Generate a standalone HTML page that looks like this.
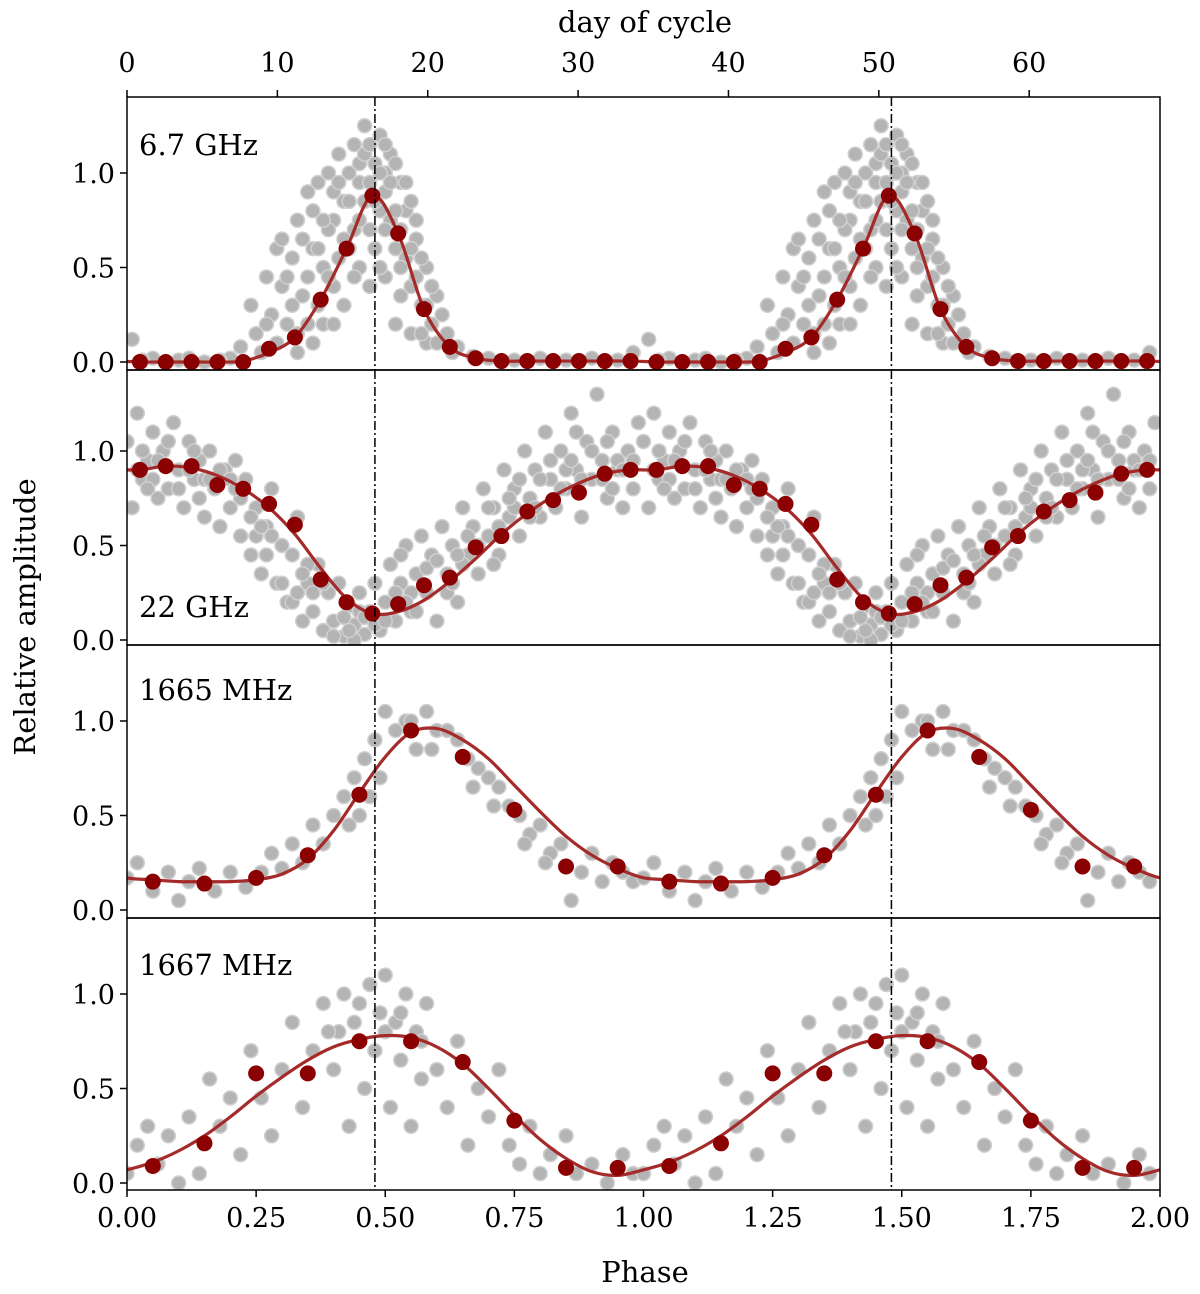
<!DOCTYPE html>
<html><head><meta charset="utf-8"><style>
body{margin:0;background:#fff}
svg text{font-family:"DejaVu Serif","Liberation Serif",serif;fill:#000}
</style></head><body>
<svg id="chart" width="1200" height="1289" xmlns="http://www.w3.org/2000/svg"></svg>
<script>
// ---- data ----
const panelLabels = ["6.7 GHz","22 GHz","1665 MHz","1667 MHz"];
const xTickLabels = ["0.00","0.25","0.50","0.75","1.00","1.25","1.50","1.75","2.00"];
const xTickValues = [0,0.25,0.5,0.75,1,1.25,1.5,1.75,2];
const dayTicks = [0,10,20,30,40,50,60];
const yTicks = [0,0.5,1.0];
const periodDays = 34.35;
const peakPhases = [0.48,1.48];
// red binned points, one cycle
const red67Phase = [0.025,0.075,0.125,0.175,0.225,0.275,0.325,0.375,0.425,0.475,0.525,0.575,0.625,0.675,0.725,0.775,0.825,0.875,0.925,0.975];
const red67 = [0,0,0,0,0,0.07,0.13,0.33,0.6,0.88,0.68,0.28,0.08,0.02,0.005,0.005,0.005,0.005,0.005,0.005];
const red22Phase = red67Phase;
const red22 = [0.9,0.92,0.92,0.82,0.8,0.72,0.61,0.32,0.2,0.14,0.19,0.29,0.33,0.49,0.55,0.68,0.74,0.78,0.88,0.9];
const redOHPhase = [0.05,0.15,0.25,0.35,0.45,0.55,0.65,0.75,0.85,0.95];
const red1665 = [0.15,0.14,0.17,0.29,0.61,0.95,0.81,0.53,0.23,0.23];
const red1667 = [0.09,0.21,0.58,0.58,0.75,0.75,0.64,0.33,0.08,0.08];
// fitted curves
const fitPhase = [0,0.05,0.1,0.15,0.2,0.25,0.3,0.35,0.4,0.45,0.5,0.55,0.6,0.65,0.7,0.75,0.8,0.85,0.9,0.95];
const fitOffPhase = red67Phase;
const fit67 = [0,0,0,0,0.005,0.05,0.13,0.33,0.6,0.88,0.68,0.28,0.08,0.02,0.005,0.005,0.005,0.005,0.005,0.005];
const fit22 = [0.9,0.92,0.91,0.87,0.8,0.7,0.56,0.38,0.22,0.14,0.15,0.21,0.31,0.43,0.56,0.67,0.76,0.83,0.88,0.9];
const fit1665 = [0.17,0.16,0.15,0.15,0.15,0.16,0.19,0.27,0.42,0.62,0.81,0.94,0.96,0.9,0.8,0.66,0.52,0.39,0.29,0.22];
const fit1667 = [0.07,0.11,0.17,0.25,0.35,0.46,0.56,0.65,0.72,0.76,0.78,0.77,0.72,0.63,0.5,0.36,0.23,0.13,0.06,0.04];
// gray individual measurements [phase, value], one cycle
const gray67 = [[0.01,0.12],[0.05,0.02],[0.1,0.01],[0.15,0],[0.2,0.02],[0.22,0.08],[0.24,0.3],[0.25,0.15],[0.27,0.45],[0.28,0.25],[0.29,0.6],[0.3,0.4],[0.31,0.2],[0.32,0.55],[0.33,0.75],[0.34,0.35],[0.35,0.9],[0.36,0.6],[0.37,0.95],[0.38,0.5],[0.39,1.0],[0.4,0.75],[0.41,1.1],[0.42,0.85],[0.43,0.6],[0.44,1.15],[0.45,0.95],[0.46,1.25],[0.47,0.7],[0.48,1.05],[0.49,1.2],[0.5,0.9],[0.51,1.1],[0.52,0.6],[0.53,0.95],[0.54,0.8],[0.55,0.4],[0.56,0.65],[0.57,0.3],[0.58,0.5],[0.59,0.2],[0.6,0.35],[0.62,0.15],[0.64,0.08],[0.67,0.03],[0.7,0.02],[0.75,0.01],[0.8,0.02],[0.85,0.01],[0.9,0.02],[0.95,0.01],[0.98,0.05],[0.4,0.4],[0.42,0.3],[0.45,0.5],[0.5,0.45],[0.53,0.35],[0.44,0.7],[0.47,0.4],[0.38,0.2],[0.48,0.6],[0.55,0.15],[0.52,0.2],[0.36,0.1],[0.33,0.05],[0.58,0.1],[0.46,0.85],[0.5,1.0],[0.43,1.0],[0.41,0.55],[0.49,0.8],[0.51,0.75],[0.39,0.7],
 [0.26,0.05],[0.27,0.2],[0.29,0.1],[0.3,0.65],[0.31,0.45],[0.32,0.3],[0.33,0.15],[0.34,0.65],[0.35,0.45],[0.36,0.8],[0.37,0.3],[0.38,0.75],[0.39,0.45],[0.4,0.9],[0.4,0.2],[0.41,0.95],[0.42,0.65],[0.43,0.85],[0.44,0.45],[0.45,1.05],[0.45,0.75],[0.46,1.1],[0.47,1.15],[0.47,0.95],[0.48,0.85],[0.49,1.0],[0.5,1.15],[0.5,0.7],[0.51,0.95],[0.52,1.05],[0.52,0.8],[0.53,0.7],[0.54,0.95],[0.54,0.55],[0.55,0.85],[0.55,0.6],[0.56,0.45],[0.56,0.75],[0.57,0.55],[0.57,0.15],[0.58,0.3],[0.59,0.4],[0.6,0.1],[0.61,0.25],[0.63,0.05],[0.37,0.6],[0.35,0.2],[0.53,0.5],[0.49,0.5],[0.12,0.02],[0.18,0.01],[0.03,0.01]];
const gray22 = [[0,1.05],[0.01,0.7],[0.02,1.2],[0.03,0.85],[0.04,0.95],[0.05,1.1],[0.06,0.75],[0.07,1.0],[0.08,0.8],[0.09,1.15],[0.1,0.9],[0.11,0.7],[0.12,1.05],[0.13,0.85],[0.14,0.95],[0.15,0.65],[0.16,1.0],[0.17,0.8],[0.18,0.6],[0.19,0.9],[0.2,0.7],[0.21,0.95],[0.22,0.55],[0.23,0.85],[0.24,0.45],[0.25,0.7],[0.26,0.35],[0.27,0.6],[0.28,0.8],[0.29,0.3],[0.3,0.5],[0.31,0.2],[0.32,0.45],[0.33,0.65],[0.34,0.1],[0.35,0.3],[0.36,0.15],[0.37,0.4],[0.38,0.05],[0.39,0.25],[0.4,0.1],[0.41,0.3],[0.42,0.02],[0.43,0.18],[0.44,0.08],[0.45,0.25],[0.46,0.03],[0.47,0.15],[0.48,0.3],[0.49,0.05],[0.5,0.2],[0.51,0.4],[0.52,0.1],[0.53,0.3],[0.54,0.5],[0.55,0.15],[0.56,0.35],[0.57,0.55],[0.58,0.25],[0.59,0.45],[0.6,0.1],[0.61,0.6],[0.62,0.35],[0.63,0.5],[0.64,0.2],[0.65,0.7],[0.66,0.45],[0.67,0.6],[0.68,0.35],[0.69,0.8],[0.7,0.55],[0.71,0.7],[0.72,0.45],[0.73,0.9],[0.74,0.65],[0.75,0.8],[0.76,0.55],[0.77,1.0],[0.78,0.75],[0.79,0.9],[0.8,0.65],[0.81,1.1],[0.82,0.85],[0.83,0.7],[0.84,1.0],[0.85,0.8],[0.86,1.2],[0.87,0.9],[0.88,0.65],[0.89,1.05],[0.9,0.85],[0.91,1.3],[0.92,0.95],[0.93,0.75],[0.94,1.1],[0.95,0.9],[0.96,0.7],[0.97,1.0],[0.98,0.8],[0.99,1.15],[0.05,0.85],[0.15,0.85],[0.25,0.55],[0.35,0.4],[0.45,0.15],[0.55,0.25],[0.65,0.4],[0.75,0.7],[0.85,0.9],[0.95,0.95],
 [0.02,0.9],[0.04,0.8],[0.06,0.95],[0.08,1.05],[0.1,0.8],[0.12,0.9],[0.14,0.75],[0.16,0.85],[0.18,0.9],[0.2,0.85],[0.22,0.75],[0.24,0.65],[0.26,0.6],[0.28,0.55],[0.3,0.3],[0.32,0.2],[0.34,0.35],[0.36,0.25],[0.38,0.3],[0.4,0.02],[0.42,0.12],[0.44,0.0],[0.46,0.12],[0.48,0.08],[0.5,0.1],[0.52,0.25],[0.54,0.2],[0.56,0.15],[0.58,0.38],[0.6,0.42],[0.62,0.25],[0.64,0.45],[0.66,0.55],[0.68,0.5],[0.7,0.7],[0.72,0.6],[0.74,0.75],[0.76,0.85],[0.78,0.65],[0.8,0.85],[0.82,0.95],[0.84,0.8],[0.86,0.95],[0.88,0.85],[0.9,1.0],[0.92,0.85],[0.94,0.8],[0.96,0.9],[0.98,0.95],[0.03,1.0],[0.13,1.0],[0.21,0.8],[0.27,0.45],[0.33,0.25],[0.43,0.05],[0.53,0.45],[0.63,0.3],[0.71,0.4],[0.79,0.7],[0.87,1.1],[0.93,1.05]];
const gray1665 = [[0,0.17],[0.02,0.25],[0.05,0.1],[0.08,0.2],[0.1,0.05],[0.12,0.15],[0.14,0.22],[0.17,0.1],[0.2,0.2],[0.23,0.12],[0.26,0.2],[0.28,0.3],[0.3,0.22],[0.32,0.35],[0.34,0.25],[0.36,0.45],[0.38,0.35],[0.4,0.5],[0.42,0.6],[0.44,0.7],[0.45,0.5],[0.46,0.8],[0.48,0.9],[0.49,0.7],[0.5,1.05],[0.52,0.95],[0.54,1.0],[0.56,0.85],[0.58,1.05],[0.6,0.95],[0.62,0.95],[0.64,0.9],[0.66,0.8],[0.68,0.75],[0.7,0.7],[0.72,0.65],[0.74,0.55],[0.76,0.5],[0.78,0.4],[0.8,0.45],[0.82,0.3],[0.84,0.35],[0.86,0.05],[0.88,0.2],[0.9,0.3],[0.92,0.15],[0.94,0.25],[0.96,0.2],[0.98,0.15],[0.47,0.6],[0.43,0.45],[0.55,1.0],[0.59,0.85],[0.67,0.65],[0.71,0.55],[0.77,0.35],[0.81,0.25]];
const gray1667 = [[0,0.05],[0.02,0.2],[0.04,0.3],[0.06,0.1],[0.08,0.25],[0.1,0],[0.12,0.35],[0.14,0.05],[0.16,0.55],[0.18,0.3],[0.2,0.45],[0.22,0.15],[0.24,0.7],[0.26,0.45],[0.28,0.25],[0.3,0.6],[0.32,0.85],[0.34,0.4],[0.36,0.7],[0.38,0.95],[0.4,0.6],[0.41,0.8],[0.42,1.0],[0.43,0.3],[0.44,0.85],[0.46,0.5],[0.47,1.05],[0.48,0.7],[0.49,0.9],[0.5,1.1],[0.51,0.4],[0.52,0.85],[0.53,0.65],[0.54,1.0],[0.55,0.3],[0.56,0.8],[0.57,0.55],[0.58,0.95],[0.6,0.6],[0.62,0.4],[0.64,0.75],[0.66,0.2],[0.68,0.5],[0.7,0.35],[0.72,0.6],[0.74,0.2],[0.76,0.1],[0.78,0.3],[0.8,0.05],[0.82,0.15],[0.85,0.25],[0.87,0.05],[0.9,0.1],[0.93,0],[0.96,0.15],[0.98,0.05],[0.39,0.8],[0.45,0.95],[0.5,0.8],[0.53,0.9],[0.57,0.75]];

// ---- layout ----
const NS="http://www.w3.org/2000/svg";
const svg=document.getElementById('chart');
const X0=127,X1=1160;
const panels=[{top:97,bot:370,y0:362},{top:370,bot:645,y0:640},{top:645,bot:918,y0:910},{top:918,bot:1190,y0:1183}];
const YS=189;
const xs=p=>X0+(p/2)*(X1-X0);
function mk(tag,attrs,parent){const e=document.createElementNS(NS,tag);for(const k in attrs)e.setAttribute(k,attrs[k]);(parent||svg).appendChild(e);return e;}
const defs=mk('defs',{});
panels.forEach((pn,i)=>{const c=mk('clipPath',{id:'clip'+i},defs);mk('rect',{x:X0,y:pn.top,width:X1-X0,height:pn.bot-pn.top},c);});

function spline(pts){let d='';for(let i=1;i<pts.length-2;i++){const p0=pts[i-1],p1=pts[i],p2=pts[i+1],p3=pts[i+2];if(i===1)d+='M'+p1[0]+','+p1[1];const c1=[p1[0]+(p2[0]-p0[0])/6,p1[1]+(p2[1]-p0[1])/6],c2=[p2[0]-(p3[0]-p1[0])/6,p2[1]-(p3[1]-p1[1])/6];d+=' C'+c1+' '+c2+' '+p2;}return d;}

const sets=[
 {gray:gray67,rp:red67Phase,rv:red67,fp:fitOffPhase,fv:fit67},
 {gray:gray22,rp:red22Phase,rv:red22,fp:fitOffPhase,fv:fit22},
 {gray:gray1665,rp:redOHPhase,rv:red1665,fp:fitPhase,fv:fit1665},
 {gray:gray1667,rp:redOHPhase,rv:red1667,fp:fitPhase,fv:fit1667}];

panels.forEach((pn,i)=>{
 const ys=v=>pn.y0-v*YS;
 const s=sets[i];
 const g=mk('g',{'clip-path':'url(#clip'+i+')'});
 
 
 for(let c=0;c<2;c++) s.gray.forEach(pt=>{
  const e=mk('circle',{cx:xs(pt[0]+c),cy:ys(pt[1]),r:7,fill:'#b4b4b4',stroke:'#d0d0d0','stroke-width':1.5},g);
  
  
 });
 const pts=[];
 for(let c=-1;c<3;c++) s.fp.forEach((p,k)=>pts.push([xs(p+c),ys(s.fv[k])]));
 const path=mk('path',{d:spline(pts),fill:'none',stroke:'#a52a2a','stroke-width':3.2},g);
 
 
 peakPhases.forEach(pp=>{const l=mk('line',{x1:xs(pp),x2:xs(pp),y1:pn.top,y2:pn.bot,stroke:'#000','stroke-width':1.5,'stroke-dasharray':'9,3,2,3'});
  
  });
 for(let c=0;c<2;c++) s.rp.forEach((p,k)=>{
  const e=mk('circle',{cx:xs(p+c),cy:ys(s.rv[k]),r:8,fill:'#8b0000'},g);
  
  
 });
 const fr=mk('rect',{x:X0,y:pn.top,width:X1-X0,height:pn.bot-pn.top,fill:'none',stroke:'#000','stroke-width':1.5});
 
 
 yTicks.forEach(v=>{mk('line',{x1:X0-7,x2:X0,y1:ys(v),y2:ys(v),stroke:'#000','stroke-width':1.5});
  const t=mk('text',{x:X0-12,y:ys(v)+10,'text-anchor':'end','font-size':27});t.textContent=v.toFixed(1);
  
  });
 const lblY=[155,617,700,975][i];
 const lb=mk('text',{x:139,y:lblY,'font-size':29});lb.textContent=panelLabels[i];
 
 
});
xTickValues.forEach((v,k)=>{mk('line',{x1:xs(v),x2:xs(v),y1:1190,y2:1197,stroke:'#000','stroke-width':1.5});
 const t=mk('text',{x:xs(v),y:1227,'text-anchor':'middle','font-size':27});t.textContent=xTickLabels[k];
 
 });
dayTicks.forEach(d=>{const x=X0+d/(2*periodDays)*(X1-X0);
 mk('line',{x1:x,x2:x,y1:90,y2:97,stroke:'#000','stroke-width':1.5});
 const t=mk('text',{x:x,y:72,'text-anchor':'middle','font-size':27});t.textContent=d;
 
 });
let t=mk('text',{x:645,y:32,'text-anchor':'middle','font-size':29});t.textContent='day of cycle';


t=mk('text',{x:645,y:1282,'text-anchor':'middle','font-size':29});t.textContent='Phase';


t=mk('text',{x:0,y:0,'text-anchor':'middle','font-size':29,transform:'translate(35,617) rotate(-90)'});t.textContent='Relative amplitude';


</script>
</body></html>
